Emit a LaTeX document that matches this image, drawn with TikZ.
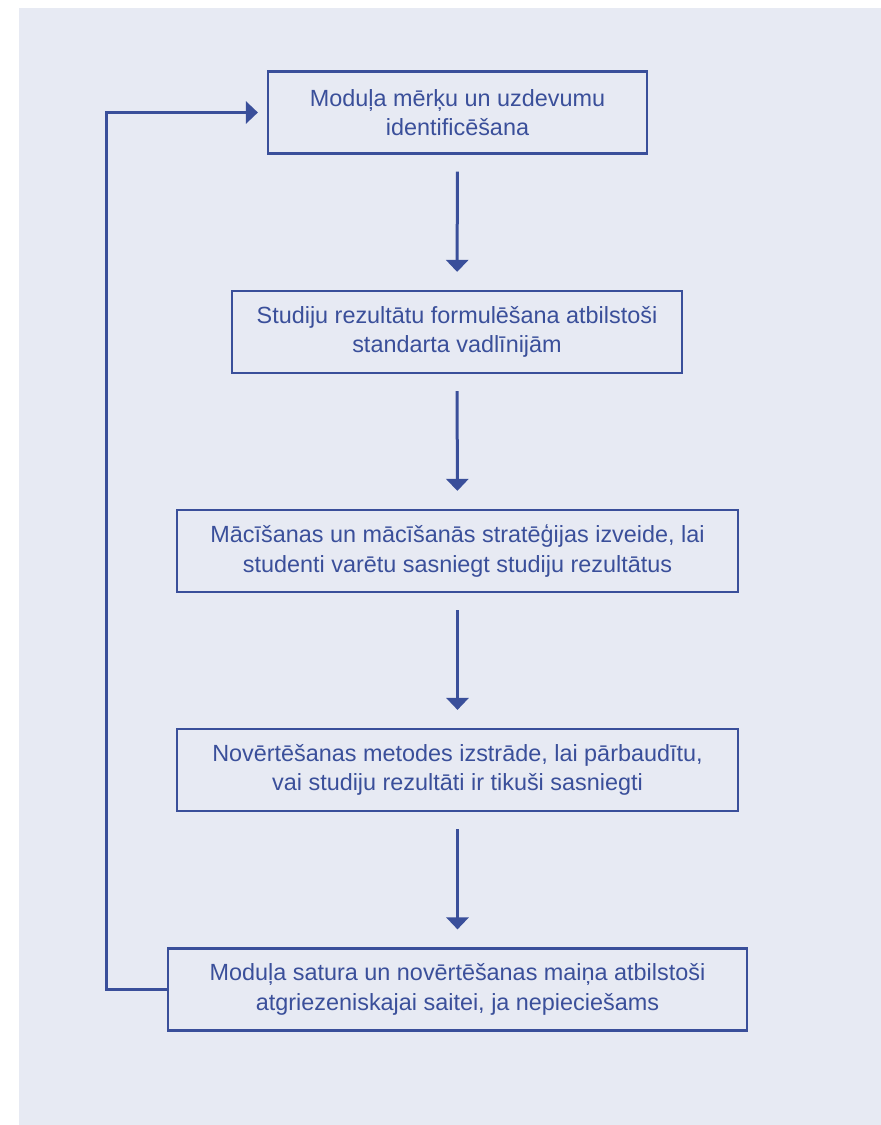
\documentclass[tikz,border=0pt]{standalone}
\usepackage{fontspec}
\setmainfont{Liberation Sans}
\usetikzlibrary{arrows.meta}

\definecolor{bgblue}{HTML}{E7EAF3}
\definecolor{lineblue}{HTML}{3A4F9A}

\tikzset{
    stepbox/.style={draw=lineblue, line width=2.2pt, text=lineblue, align=center,
        minimum height=82pt, inner sep=0pt,
        font=\fontsize{23.4}{29.5}\selectfont},
    flow/.style={draw=lineblue, line width=3pt,
        -{Triangle[width=22pt,length=12pt]}},
}

\begin{document}
\begin{tikzpicture}[x=1pt, y=-1pt]
    \useasboundingbox (0,0) rectangle (881,1125);
    \fill[bgblue] (19,8) rectangle (881,1125);

    \node[stepbox, minimum width=379pt] (b1) at (457.5,112.5)
        {Moduļa mērķu un uzdevumu\\identificēšana};
    \node[stepbox, minimum width=450pt] (b2) at (457,332)
        {Studiju rezultātu formulēšana atbilstoši\\standarta vadlīnijām};
    \node[stepbox, minimum width=561pt] (b3) at (457.5,551)
        {Mācīšanas un mācīšanās stratēģijas izveide, lai\\studenti varētu sasniegt studiju rezultātus};
    \node[stepbox, minimum width=561pt] (b4) at (457.5,770)
        {Novērtēšanas metodes izstrāde, lai pārbaudītu,\\vai studiju rezultāti ir tikuši sasniegti};
    \node[stepbox, minimum width=579pt] (b5) at (457.5,989.5)
        {Moduļa satura un novērtēšanas maiņa atbilstoši\\atgriezeniskajai saitei, ja nepieciešams};

    \draw[flow, shorten <=17pt, shorten >=18pt] (b1) -- (b2);
    \draw[flow, shorten <=17pt, shorten >=18pt] (b2) -- (b3);
    \draw[flow, shorten <=17pt, shorten >=18pt] (b3) -- (b4);
    \draw[flow, shorten <=17pt, shorten >=18pt] (b4) -- (b5);

    % feedback loop
    \draw[flow, shorten >=9pt] (b5.west) -- ++(-60,0) |- (b1.west);
\end{tikzpicture}
\end{document}
